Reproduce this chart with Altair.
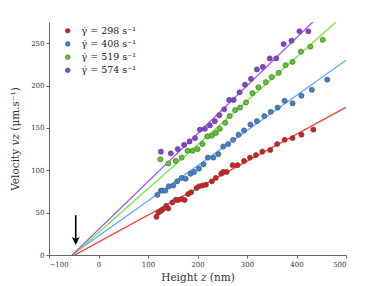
import altair as alt
import pandas as pd

# ---- data ----
shear_rates = [298, 408, 519, 574]
series_labels = [f"γ̇ = {r} s⁻¹" for r in shear_rates]

red_x = [117,121,126,130,137,141,149,156,161,168,174,181,187,198,203,210,217,229,237,248,252,259,271,281,294,306,318,331,347,361,376,392,410,434]
red_y = [45,50,52,54,58,55,62,65,65,66,65,72,74,79,81,82,83,87,91,96,98,98,106,106,111,115,118,122,124,131,136,138,142,148]

blue_x = [119,126,130,135,142,151,159,168,176,186,193,203,212,221,232,242,252,262,272,283,294,307,320,335,348,362,376,392,410,431,462]
blue_y = [71,76,76,76,81,82,87,91,90,96,98,102,107,115,115,119,128,131,136,142,147,154,158,164,169,174,182,179,188,195,207]

green_x = [125,141,156,168,180,190,200,210,220,229,237,245,256,265,276,286,298,311,323,338,350,364,378,392,409,428,453]
green_y = [113,108,111,115,123,123,125,131,140,141,144,149,156,164,171,174,180,191,198,204,210,215,224,228,240,246,254]

purple_x = [126,146,160,173,184,195,205,215,225,235,244,254,264,273,285,296,308,320,332,346,359,374,390,406,424]
purple_y = [122,120,125,130,134,138,148,149,153,158,165,172,183,183,192,201,208,219,222,232,232,249,253,264,264]

# linear fits: v = slope * (z - z0)
fit_z0 = [-48, -54, -51, -53]
fit_slope = [0.318, 0.415, 0.518, 0.566]

# arrow annotation (data coordinates)
arrow_x = [-46]
arrow_top = [47]
arrow_bottom = [18]
arrow_head = [16.5]

x_min, x_max = -100, 500
y_min, y_max = 0, 275

point_colors = ["#d81b1b", "#3b82d6", "#55cc22", "#8a3ddb"]
line_colors = ["#ff2a2a", "#5aa6ff", "#6fe83a", "#a050ff"]

# ---- build tables ----
rows = []
for lab, xs, ys in zip(series_labels, [red_x, blue_x, green_x, purple_x],
                       [red_y, blue_y, green_y, purple_y]):
    for x, y in zip(xs, ys):
        rows.append({"series": lab, "z": x, "v": y})
points = pd.DataFrame(rows)

frows = []
for lab, z0, s in zip(series_labels, fit_z0, fit_slope):
    z_end = min(x_max, z0 + y_max / s)
    frows.append({"series": lab, "z": z0, "v": 0.0, "o": 0})
    frows.append({"series": lab, "z": z_end, "v": s * (z_end - z0), "o": 1})
fits = pd.DataFrame(frows)

arrow = pd.DataFrame({"z": arrow_x, "top": arrow_top, "bottom": arrow_bottom,
                      "head": arrow_head})

FONT = "DejaVu Serif"

xscale = alt.Scale(domain=[x_min, x_max], nice=False, zero=False)
yscale = alt.Scale(domain=[y_min, y_max], nice=False, zero=False)

xaxis = alt.Axis(title="Height 𝑧 (nm)", values=[-100, 0, 100, 200, 300, 400, 500],
                 grid=False, tickSize=3, labelPadding=2, titlePadding=5)
yaxis = alt.Axis(title="Velocity 𝑣𝑧 (μm.s⁻¹)", values=[0, 50, 100, 150, 200, 250],
                 grid=False, tickSize=3, labelPadding=2, titlePadding=10)

lines = alt.Chart(fits).mark_line(strokeWidth=1.2, clip=True).encode(
    x=alt.X("z:Q", scale=xscale, axis=xaxis),
    y=alt.Y("v:Q", scale=yscale, axis=yaxis),
    color=alt.Color("series:N", scale=alt.Scale(domain=series_labels, range=line_colors),
                    legend=None),
    detail="series:N",
    order="o:Q",
)

dots = alt.Chart(points).mark_circle(size=27, opacity=1, stroke="#555555",
                                     strokeWidth=0.6).encode(
    x=alt.X("z:Q", scale=xscale),
    y=alt.Y("v:Q", scale=yscale),
    color=alt.Color("series:N", scale=alt.Scale(domain=series_labels, range=point_colors),
                    legend=alt.Legend(title=None, orient="none", legendX=14, legendY=4,
                                      symbolType="circle", symbolSize=22,
                                      symbolStrokeColor="#555555", symbolStrokeWidth=0.6,
                                      labelFont=FONT, labelFontSize=9.5, labelColor="#222222",
                                      rowPadding=2.2, labelOffset=9)),
)

shaft = alt.Chart(arrow).mark_rule(color="black", strokeWidth=1.6).encode(
    x=alt.X("z:Q", scale=xscale),
    y=alt.Y("top:Q", scale=yscale),
    y2="bottom:Q",
)

head = alt.Chart(arrow).mark_point(shape="M-1,-1L0,1L1,-1L0,-0.55Z", filled=True,
                                   color="black", size=64, opacity=1).encode(
    x=alt.X("z:Q", scale=xscale),
    y=alt.Y("head:Q", scale=yscale),
)

chart = alt.layer(lines, dots, shaft, head).resolve_scale(color="independent").properties(
    width=297, height=233,
    autosize=alt.AutoSizeParams(type="none"),
    padding={"left": 41, "top": 14, "right": 28, "bottom": 31},
).configure_view(stroke=None).configure_axis(
    domainColor="#555555", tickColor="#555555", domainWidth=0.9, tickWidth=0.9,
    labelFont=FONT, labelFontSize=7, labelColor="#333333",
    titleFont=FONT, titleFontSize=10.5, titleFontWeight="normal", titleColor="#333333",
)

chart.save("out.html", embed_options={"renderer": "svg", "actions": False})
